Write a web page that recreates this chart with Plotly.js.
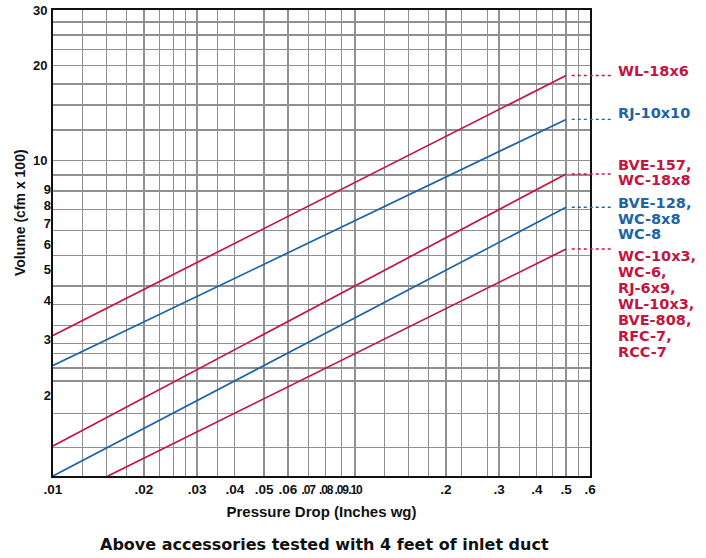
<!DOCTYPE html>
<html>
<head>
<meta charset="utf-8">
<script src="https://cdn.plot.ly/plotly-3.0.1.min.js"></script>
<style>html,body{margin:0;padding:0;background:#fff;}</style>
</head>
<body>
<div id="chart" style="width:706px;height:558px;"></div>
<script>
// ---- data ----
const seriesNames   = ['WL-18x6', 'RJ-10x10', 'BVE-157, WC-18x8', 'BVE-128, WC-8x8 WC-8',
                       'WC-10x3, WC-6, RJ-6x9, WL-10x3, BVE-808, RFC-7, RCC-7'];
const seriesLabelLines = [
  ['WL-18x6'],
  ['RJ-10x10'],
  ['BVE-157,', 'WC-18x8'],
  ['BVE-128,', 'WC-8x8', 'WC-8'],
  ['WC-10x3,', 'WC-6,', 'RJ-6x9,', 'WL-10x3,', 'BVE-808,', 'RFC-7,', 'RCC-7']
];
const pressureStart = [0.01, 0.01, 0.01, 0.01, 0.0152];   // in. wg
const pressureEnd   = [0.5, 0.5, 0.5, 0.5, 0.5];
const volumeStart   = [2.79, 2.24, 1.245, 1.0, 1.0];       // cfm x 100
const volumeEnd     = [18.6, 13.5, 9.06, 7.11, 5.24];

// grid lines / tick labels
const xGridVals = [0.01,0.0125,0.015,0.0175,0.02,0.0225,0.025,0.0275,0.03,0.035,0.04,0.05,0.06,0.07,0.08,0.09,
                   0.1,0.125,0.15,0.175,0.2,0.225,0.275,0.3,0.35,0.4,0.45,0.5,0.55,0.6];
const xLabelVals = [0.01,0.02,0.03,0.04,0.05,0.06,0.07,0.08,0.09,0.1,0.2,0.3,0.4,0.5,0.6];
const xLabelText = ['.01','.02','.03','.04','.05','.06','.07','.08','.09','.10','.2','.3','.4','.5','.6'];
const xSmallLabels = ['.07','.08','.09','.10'];
const yGridVals = [1.23,1.58,2,2.2,2.45,2.63,3,3.5,4,5,6,7,8,9,10,12.5,15,17.5,20,22.5,25,27.5,30];
const yMajorLabelVals = [10, 20, 30];
const yMinorLabelVals = [2, 3, 4, 5, 6, 7, 8, 9];

// ---- styles ----
const RED = '#c5143f', BLUE = '#1c64a6';
const seriesColors = [RED, BLUE, RED, BLUE, RED];
const labelFirstShift = [5, 6, 9, 4, -7];
const labelLineGap = [16, 16, 15, 15.5, 16];
const FONT = 'DejaVu Sans, Arial, sans-serif';
const TFONT = 'Liberation Sans, Arial, sans-serif';
const GRID = '#909090';

const fmt = v => {
  const i = xLabelVals.indexOf(v);
  if (i < 0) return '';
  const t = xLabelText[i];
  return xSmallLabels.includes(t)
    ? '<span style="font-size:12px;letter-spacing:-1.1px">' + t + '</span>' : t;
};

const traces = seriesNames.map((name, i) => ({
  type: 'scatter', mode: 'lines', name: name,
  x: [pressureStart[i], pressureEnd[i]],
  y: [volumeStart[i], volumeEnd[i]],
  line: {color: seriesColors[i], width: 1.7},
  hoverinfo: 'skip', showlegend: false
}));
traces.push({type: 'scatter', mode: 'lines', x: [], y: [], xaxis: 'x', yaxis: 'y2', showlegend: false, hoverinfo: 'skip'});

const shapes = seriesNames.map((n, i) => ({
  type: 'line', xref: 'paper', yref: 'y',
  x0: 0.966, x1: 1.039, y0: volumeEnd[i], y1: volumeEnd[i],
  line: {color: seriesColors[i], width: 1.4, dash: 'dot'}
}));

const annotations = [];
seriesLabelLines.forEach((lines, i) => {
  lines.forEach((txt, k) => {
    annotations.push({
      xref: 'paper', yref: 'y', x: 1.0484, y: Math.log10(volumeEnd[i]),
      xanchor: 'left', yanchor: 'middle', showarrow: false,
      yshift: labelFirstShift[i] - k * labelLineGap[i],
      text: txt, font: {family: FONT, size: 14.5, weight: 'bold', color: seriesColors[i]}
    });
  });
});
annotations.push({
  xref: 'paper', yref: 'paper', x: -0.0615, y: 0.5665, textangle: -90,
  xanchor: 'center', yanchor: 'middle', showarrow: false,
  text: 'Volume (cfm x 100)', font: {family: TFONT, size: 14, weight: 'bold', color: '#111'}
});
annotations.push({
  xref: 'paper', yref: 'paper', x: 0.5056, y: -0.148,
  xanchor: 'center', yanchor: 'middle', showarrow: false,
  text: 'Above accessories tested with 4 feet of inlet duct',
  font: {family: FONT, size: 16, weight: 'bold', color: '#111'}
});

const layout = {
  width: 706, height: 558,
  margin: {l: 53, r: 116, t: 10, b: 82},
  paper_bgcolor: '#fff', plot_bgcolor: '#fff',
  showlegend: false,
  xaxis: {
    type: 'log', range: [-2, Math.log10(0.6) + 1e-6],
    tickmode: 'array', tickvals: xGridVals, ticktext: xGridVals.map(fmt), tickangle: 0,
    showgrid: true, gridcolor: GRID, gridwidth: 1.3,
    showline: true, linecolor: '#111', linewidth: 2, mirror: true,
    ticks: '', zeroline: false, automargin: false,
    tickfont: {family: TFONT, size: 13.5, weight: 'bold', color: '#111'},
    title: {text: 'Pressure Drop (Inches wg)', font: {family: TFONT, size: 15, weight: 'bold', color: '#111'}, standoff: 10}
  },
  yaxis: {
    type: 'log', range: [0, Math.log10(30)],
    tickmode: 'array', tickvals: yGridVals,
    ticktext: yGridVals.map(v => yMajorLabelVals.includes(v) ? String(v) : ''),
    showgrid: true, gridcolor: GRID, gridwidth: 1.3,
    showline: true, linecolor: '#111', linewidth: 2, mirror: true,
    ticks: '', zeroline: false, automargin: false, ticklabelstandoff: 1,
    tickfont: {family: TFONT, size: 13, weight: 'bold', color: '#111'}
  },
  yaxis2: {
    type: 'log', range: [0, Math.log10(30)], overlaying: 'y', side: 'left', anchor: 'x',
    tickmode: 'array', tickvals: yMinorLabelVals, ticktext: yMinorLabelVals.map(String),
    showgrid: false, showline: false, zeroline: false, ticks: '', automargin: false,
    ticklabelshift: 14, ticklabelstandoff: 1,
    tickfont: {family: TFONT, size: 13, weight: 'bold', color: '#111'}
  },
  shapes: shapes,
  annotations: annotations
};

Plotly.newPlot('chart', traces, layout, {staticPlot: true, displayModeBar: false});
</script>
</body>
</html>
